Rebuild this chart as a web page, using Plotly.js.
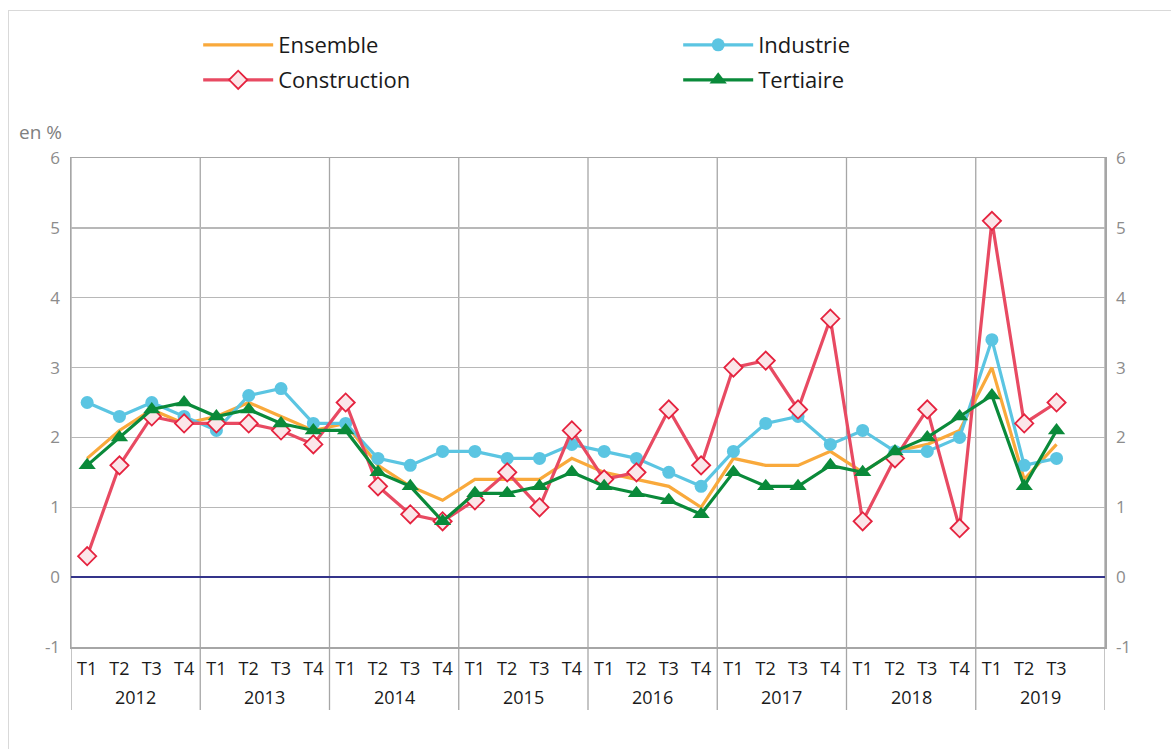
<!DOCTYPE html>
<html>
<head>
<meta charset="utf-8">
<script src="https://cdn.plot.ly/plotly-3.0.1.min.js"></script>
<style>
html,body{margin:0;padding:0;background:#fff;overflow:hidden;}
#frame{position:absolute;left:8px;top:10px;width:1300px;height:900px;border-left:1px solid #d9d9d9;border-top:1px solid #d9d9d9;}
#chart{position:absolute;left:0;top:0;width:1171px;height:749px;}
</style>
</head>
<body>
<div id="frame"></div>
<div id="chart"></div>
<script>
const years = ['2012','2013','2014','2015','2016','2017','2018','2019'];
const quarterNames = ['T1','T2','T3','T4'];
const yTickValues = [-1, 0, 1, 2, 3, 4, 5, 6];
const yTickLabels = ['-1', '0', '1', '2', '3', '4', '5', '6'];
const categories = [];
const quarterLabels = [];
years.forEach(y => quarterNames.forEach(q => { categories.push(y + ' ' + q); quarterLabels.push(y === '2019' && q === 'T4' ? '' : q); }));
const nPoints = 31;
const xData = categories.slice(0, nPoints);

const ensemble     = [1.7, 2.1, 2.4, 2.2, 2.3, 2.5, 2.3, 2.1, 2.2, 1.6, 1.3, 1.1, 1.4, 1.4, 1.4, 1.7, 1.5, 1.4, 1.3, 1.0, 1.7, 1.6, 1.6, 1.8, 1.5, 1.8, 1.9, 2.1, 3.0, 1.4, 1.9];
const industrie    = [2.5, 2.3, 2.5, 2.3, 2.1, 2.6, 2.7, 2.2, 2.2, 1.7, 1.6, 1.8, 1.8, 1.7, 1.7, 1.9, 1.8, 1.7, 1.5, 1.3, 1.8, 2.2, 2.3, 1.9, 2.1, 1.8, 1.8, 2.0, 3.4, 1.6, 1.7];
const construction = [0.3, 1.6, 2.3, 2.2, 2.2, 2.2, 2.1, 1.9, 2.5, 1.3, 0.9, 0.8, 1.1, 1.5, 1.0, 2.1, 1.4, 1.5, 2.4, 1.6, 3.0, 3.1, 2.4, 3.7, 0.8, 1.7, 2.4, 0.7, 5.1, 2.2, 2.5];
const tertiaire    = [1.6, 2.0, 2.4, 2.5, 2.3, 2.4, 2.2, 2.1, 2.1, 1.5, 1.3, 0.8, 1.2, 1.2, 1.3, 1.5, 1.3, 1.2, 1.1, 0.9, 1.5, 1.3, 1.3, 1.6, 1.5, 1.8, 2.0, 2.3, 2.6, 1.3, 2.1];

const FONT = 'Open Sans, Noto Sans, sans-serif';

const traces = [
  {name:'Ensemble', x:xData, y:ensemble, type:'scatter', mode:'lines',
   line:{color:'#F9A93B', width:3.2}, legend:'legend', hoverinfo:'skip'},
  {name:'Industrie', x:xData, y:industrie, type:'scatter', mode:'lines+markers',
   line:{color:'#5BC5E2', width:3.2}, marker:{symbol:'circle', size:13, color:'#5BC5E2'}, legend:'legend'},
  {name:'Construction', x:xData, y:construction, type:'scatter', mode:'lines+markers',
   line:{color:'#E84A62', width:3.2}, marker:{symbol:'diamond', size:14, color:'#FBE6E9', line:{color:'#E5233F', width:1.8}}, legend:'legend2'},
  {name:'Tertiaire', x:xData, y:tertiaire, type:'scatter', mode:'lines+markers',
   line:{color:'#0A8A3A', width:3.2}, marker:{symbol:'triangle-up', size:15, color:'#0A8A3A'}, legend:'legend2'},
  {name:'axe droit', x:xData, y:ensemble, yaxis:'y2', type:'scatter', mode:'lines',
   line:{width:0, color:'rgba(0,0,0,0)'}, showlegend:false, hoverinfo:'skip'}
];

const shapes = [];
const dividerPos = [-0.5, 3.5, 7.5, 11.5, 15.5, 19.5, 23.5, 27.5, 31.5];
dividerPos.forEach(p => {
  shapes.push({type:'line', xref:'x', yref:'paper', x0:p, x1:p, y0:-0.129, y1:1,
    line:{color:'#a6a6a6', width:1.3}, layer:'below'});
});

const annotations = years.map((y, i) => ({
  text:y, xref:'x', yref:'paper', x:i*4+1.5, y:0, yshift:-50, showarrow:false,
  xanchor:'center', yanchor:'middle', font:{family:FONT, size:18, color:'#1a1a1a'}
}));
annotations.push({text:'en %', xref:'paper', yref:'paper', x:0, y:1, xshift:-54, yshift:26,
  xanchor:'left', yanchor:'middle', showarrow:false, font:{family:FONT, size:19, color:'#808080'}});

const yCommon = {range:[-1, 6], tickmode:'array', tickvals:yTickValues, ticktext:yTickLabels,
  showgrid:true, gridcolor:'#b8b8b8', gridwidth:1.3,
  zeroline:false, showline:true, linecolor:'#a6a6a6', linewidth:1.5, ticks:'',
  tickfont:{family:FONT, size:17, color:'#8c8c8c'}, fixedrange:true};

const legendCommon = {orientation:'h', x:0.123, xanchor:'left', yanchor:'middle', xref:'paper', yref:'paper',
  entrywidth:395, entrywidthmode:'pixels', itemwidth:70, font:{family:FONT, size:22, color:'#1a1a1a'},
  bgcolor:'rgba(0,0,0,0)', traceorder:'normal'};

const layout = {
  width:1171, height:749,
  margin:{l:71, r:66, t:158, b:102, autoexpand:false},
  paper_bgcolor:'rgba(0,0,0,0)', plot_bgcolor:'rgba(0,0,0,0)',
  font:{family:FONT},
  showlegend:true,
  legend:Object.assign({}, legendCommon, {y:1.231}),
  legend2:Object.assign({}, legendCommon, {y:1.1595}),
  xaxis:{type:'category', categoryorder:'array', categoryarray:categories, range:[-0.5, 31.5],
    tickmode:'array', tickvals:categories, ticktext:quarterLabels, showgrid:false, zeroline:false,
    showline:true, mirror:true, linecolor:'#a6a6a6', linewidth:1.5, ticks:'', ticklabelstandoff:5,
    tickfont:{family:FONT, size:18, color:'#1a1a1a'}, fixedrange:true},
  yaxis:Object.assign({}, yCommon, {side:'left', ticklabelstandoff:6,
    zeroline:true, zerolinecolor:'#34348a', zerolinewidth:2}),
  yaxis2:Object.assign({}, yCommon, {side:'right', overlaying:'y', showgrid:false, ticklabelstandoff:6}),
  shapes:shapes,
  annotations:annotations
};

Plotly.newPlot('chart', traces, layout, {displayModeBar:false, staticPlot:true});
</script>
</body>
</html>
